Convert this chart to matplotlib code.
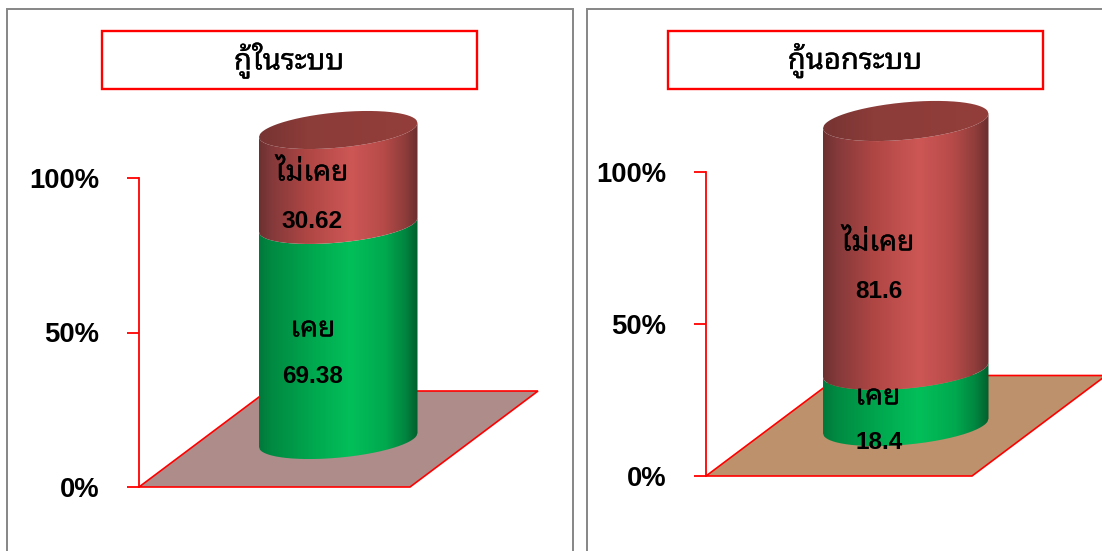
"""Two stacked 3D-look cylinder charts: borrowing inside and outside the system."""

import matplotlib

matplotlib.use("Agg")
import matplotlib.pyplot as plt
import numpy as np
from matplotlib import font_manager as fm
from matplotlib import patheffects
from matplotlib.colors import LinearSegmentedColormap
from matplotlib.patches import PathPatch, Polygon, Rectangle
from matplotlib.path import Path

WIDTH, HEIGHT = 1102, 551
RED = "#ff0000"
THAI_FONT = next(
    (f.name for f in fm.fontManager.ttflist if f.name.startswith("Noto Sans Thai Loop")),
    "Noto Sans Thai",
)
LATIN_FONT = "Liberation Sans"
THICKER = [patheffects.withStroke(linewidth=0.2, foreground="black")]

tick_values = [0, 50, 100]
tick_labels = ["0%", "50%", "100%"]
segment_names = ["เคย", "ไม่เคย"]

left_title = "กู้ในระบบ"
left_values = [69.38, 30.62]
left_value_labels = ["69.38", "30.62"]

right_title = "กู้นอกระบบ"
right_values = [18.4, 81.6]
right_value_labels = ["18.4", "81.6"]

# all geometry below is in picture pixels, y from the top
LEFT_LAYOUT = {
    "frame": (7, 573),
    "title_box": (102, 477),
    "title_x": 289,
    "axis_x": 139,
    "y0": 487,
    "y100": 178,
    "floor": [(139, 487), (410, 487), (538, 391), (267, 391)],
    "floor_color": "#ae8c89",
    "cyl": (259, 417.5),
    "base": 440,
    "cyl_height": 310,
    "b": 17.7,
    "labels": [(313, 329, 312.5, 376.5), (312, 173, 312, 221.5)],
}
RIGHT_LAYOUT = {
    "frame": (587, 1160),
    "title_box": (668, 1043),
    "title_x": 855,
    "axis_x": 706,
    "y0": 476,
    "y100": 172,
    "floor": [(706, 476), (972, 476), (1106, 375.5), (840, 375.5)],
    "floor_color": "#bc916b",
    "cyl": (823, 988.5),
    "base": 426,
    "cyl_height": 305,
    "b": 18.7,
    "labels": [(878, 397, 879, 442.5), (878, 243, 879, 291.5)],
}

GREEN_CMAP = LinearSegmentedColormap.from_list(
    "green",
    [(0, "#00793a"), (0.08, "#008a42"), (0.35, "#00a94f"), (0.58, "#03bf5a"),
     (0.8, "#00a84e"), (0.92, "#008640"), (1, "#005f2d")],
)
RED_CMAP = LinearSegmentedColormap.from_list(
    "red",
    [(0, "#6c3130"), (0.08, "#84393a"), (0.3, "#ae4644"), (0.58, "#cd5755"),
     (0.78, "#b74b49"), (0.92, "#8f3d3b"), (1, "#6a2e2e")],
)
CAP_CMAP = LinearSegmentedColormap.from_list(
    "cap", [(0, "#763432"), (0.3, "#8c3c39"), (1, "#933e3b")]
)


def px_to_value(layout, y_px):
    return (layout["y0"] - np.asarray(y_px, dtype=float)) * 100 / (layout["y0"] - layout["y100"])


def ellipse_arc(layout, centre_y, front=True):
    left, right = layout["cyl"]
    half = (right - left) / 2
    xs = np.linspace(left, right, 160)
    u = (xs - (left + right) / 2) / half
    bulge = layout["b"] * np.sqrt(np.clip(1 - u**2, 0, 1))
    tilt = 0.0886 * half * u
    ys = centre_y - tilt + (bulge if front else -bulge)
    return xs, px_to_value(layout, ys)


def gradient_fill(ax, layout, xs, ys, cmap, zorder):
    vertices = np.column_stack([xs, ys])
    patch = PathPatch(Path(np.vstack([vertices, vertices[0]])), transform=ax.transData,
                      facecolor="none", edgecolor="none")
    ax.add_patch(patch)
    image = ax.imshow(
        np.linspace(0, 1, 256).reshape(1, -1),
        cmap=cmap,
        vmin=0,
        vmax=1,
        aspect="auto",
        extent=(layout["cyl"][0], layout["cyl"][1], ys.min(), ys.max()),
        zorder=zorder,
    )
    image.set_clip_path(patch)


def draw_cylinder(ax, layout, values):
    levels = np.cumsum([0] + list(values))
    centres = layout["base"] - levels / 100 * layout["cyl_height"]

    for i, cmap in enumerate([GREEN_CMAP, RED_CMAP]):
        low_x, low_y = ellipse_arc(layout, centres[i], front=True)
        top_x, top_y = ellipse_arc(layout, centres[i + 1], front=True)
        xs = np.concatenate([low_x, top_x[::-1]])
        ys = np.concatenate([low_y, top_y[::-1]])
        gradient_fill(ax, layout, xs, ys, cmap, 3 + i)

    front_x, front_y = ellipse_arc(layout, centres[-1], front=True)
    back_x, back_y = ellipse_arc(layout, centres[-1], front=False)
    xs = np.concatenate([front_x, back_x[::-1]])
    ys = np.concatenate([front_y, back_y[::-1]])
    gradient_fill(ax, layout, xs, ys, CAP_CMAP, 5)


def draw_panel(fig, layout, title, values, value_labels):
    y0, y100 = layout["y0"], layout["y100"]
    per_px = 100 / (y0 - y100)
    ax = fig.add_axes([0, 0, 1, 1], facecolor="none")

    floor = [(x, px_to_value(layout, y)) for x, y in layout["floor"]]
    ax.add_patch(Polygon(floor, closed=True, facecolor=layout["floor_color"],
                         edgecolor=RED, linewidth=1.2, zorder=2))
    draw_cylinder(ax, layout, values)

    ax.set_xlim(0, WIDTH)
    ax.set_ylim((y0 - HEIGHT) * per_px, y0 * per_px)

    for name in ["top", "right", "bottom"]:
        ax.spines[name].set_visible(False)
    ax.spines["left"].set_position(("data", layout["axis_x"]))
    ax.spines["left"].set_bounds(0, 100)
    ax.spines["left"].set_color(RED)
    ax.spines["left"].set_linewidth(1.3)
    ax.spines["left"].set_zorder(6)
    ax.set_xticks([])
    ax.set_yticks(tick_values, tick_labels, fontfamily=LATIN_FONT, fontweight="bold", fontsize=19.8)
    ax.tick_params(axis="y", length=8.6, width=1.3, color=RED, pad=20)

    for name, value_label, spot in zip(segment_names, value_labels, layout["labels"]):
        name_x, name_y, value_x, value_y = spot
        ax.text(name_x, px_to_value(layout, name_y), name, family=[THAI_FONT, "DejaVu Sans"],
                fontsize=20.4, ha="center", va="center", color="black", zorder=8,
                path_effects=THICKER)
        ax.text(value_x, px_to_value(layout, value_y), value_label, family=LATIN_FONT,
                fontweight="bold", fontsize=17.6, ha="center", va="center", color="black", zorder=8)

    # panel frame runs off the bottom of the picture, title box sits on top
    frame_left, frame_right = layout["frame"]
    fig.add_artist(Rectangle((frame_left / WIDTH, -0.1), (frame_right - frame_left) / WIDTH,
                             1.1 - 9 / HEIGHT, transform=fig.transFigure, facecolor="none",
                             edgecolor="#868686", linewidth=1.4))
    box_left, box_right = layout["title_box"]
    fig.add_artist(Rectangle((box_left / WIDTH, 1 - 89 / HEIGHT), (box_right - box_left) / WIDTH,
                             58 / HEIGHT, transform=fig.transFigure, facecolor="white",
                             edgecolor=RED, linewidth=1.7))
    fig.text(layout["title_x"] / WIDTH, 1 - 60 / HEIGHT, title, family=[THAI_FONT, "DejaVu Sans"],
             fontsize=21, ha="center", va="center", color="black", zorder=5, path_effects=THICKER)


def main():
    fig = plt.figure(figsize=(WIDTH / 100, HEIGHT / 100), dpi=100, facecolor="white")
    draw_panel(fig, LEFT_LAYOUT, left_title, left_values, left_value_labels)
    draw_panel(fig, RIGHT_LAYOUT, right_title, right_values, right_value_labels)
    fig.savefig("out.png", dpi=100, facecolor="white")
    plt.close(fig)


if __name__ == "__main__":
    main()
